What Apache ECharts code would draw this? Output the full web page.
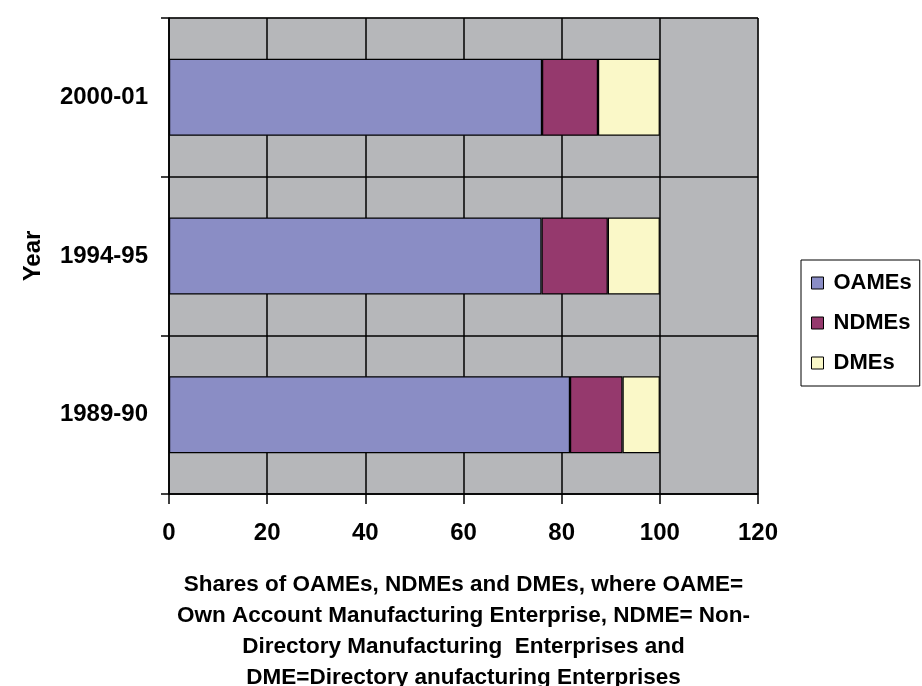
<!DOCTYPE html>
<html>
<head>
<meta charset="utf-8">
<script src="https://cdn.jsdelivr.net/npm/echarts@6/dist/echarts.min.js"></script>
<style>html,body{margin:0;padding:0;background:#fff;}#c{width:922px;height:686px;}</style>
</head>
<body>
<div id="c"></div>
<script>
const categories = ['1989-90', '1994-95', '2000-01'];
const oames = [81.7, 75.9, 76.0];
const ndmes = [10.7, 13.5, 11.4];
const dmes = [7.6, 10.6, 12.6];
const xTicks = [0, 20, 40, 60, 80, 100, 120];

const chart = echarts.init(document.getElementById('c'));
const font = 'Liberation Sans, Arial, sans-serif';
const barStyle = { borderColor: '#000', borderWidth: 1.2 };
chart.setOption({
  animation: false,
  textStyle: { fontFamily: font },
  grid: {
    left: 169, right: 164, top: 18, bottom: 192,
    outerBoundsMode: 'none', containLabel: false,
    show: true, backgroundColor: '#b6b7ba', borderColor: '#7f7f7f', borderWidth: 1
  },
  legend: {
    orient: 'vertical',
    left: 801, top: 260,
    padding: [10, 8, 10, 10],
    itemGap: 14,
    itemWidth: 12, itemHeight: 12,
    borderColor: '#000', borderWidth: 1, backgroundColor: '#fff', borderRadius: 0,
    icon: 'rect',
    itemStyle: { borderColor: '#000', borderWidth: 1 },
    textStyle: { fontFamily: font, fontWeight: 'bold', fontSize: 22, lineHeight: 26, color: '#000', padding: [0, 0, 0, 5] },
    data: ['OAMEs', 'NDMEs', 'DMEs']
  },
  xAxis: {
    type: 'value', min: xTicks[0], max: xTicks[xTicks.length - 1], interval: 20,
    axisLine: { show: true, lineStyle: { color: '#000', width: 1.5 } },
    axisTick: { show: true, length: 10, lineStyle: { color: '#000', width: 1.5 } },
    axisLabel: { color: '#000', fontWeight: 'bold', fontSize: 24, margin: 27, fontFamily: font },
    splitLine: { show: true, lineStyle: { color: '#000', width: 1.5 } },
    name: 'Shares of OAMEs, NDMEs and DMEs, where OAME=\nOwn Account Manufacturing Enterprise, NDME= Non-\nDirectory Manufacturing  Enterprises and\nDME=Directory anufacturing Enterprises',
    nameLocation: 'middle', nameGap: 75,
    nameTextStyle: { color: '#000', fontWeight: 'bold', fontSize: 22.5, lineHeight: 31, fontFamily: font, verticalAlign: 'top' }
  },
  yAxis: {
    type: 'category', data: categories,
    axisLine: { show: true, lineStyle: { color: '#000', width: 1.5 } },
    axisTick: { show: true, length: 8, lineStyle: { color: '#000', width: 1.5 } },
    axisLabel: { color: '#000', fontWeight: 'bold', fontSize: 24, margin: 21, fontFamily: font },
    splitLine: { show: true, lineStyle: { color: '#000', width: 1.5 } },
    name: 'Year', nameLocation: 'middle', nameGap: 124, nameRotate: 90,
    nameTextStyle: { color: '#000', fontWeight: 'bold', fontSize: 24, fontFamily: font }
  },
  series: [
    { name: 'OAMEs', type: 'bar', stack: 's', data: oames, barWidth: '48.5%', itemStyle: Object.assign({ color: '#8a8dc5' }, barStyle) },
    { name: 'NDMEs', type: 'bar', stack: 's', data: ndmes, barWidth: '48.5%', itemStyle: Object.assign({ color: '#95396d' }, barStyle) },
    { name: 'DMEs', type: 'bar', stack: 's', data: dmes, barWidth: '48.5%', itemStyle: Object.assign({ color: '#faf8c8' }, barStyle) }
  ]
});
</script>
</body>
</html>
